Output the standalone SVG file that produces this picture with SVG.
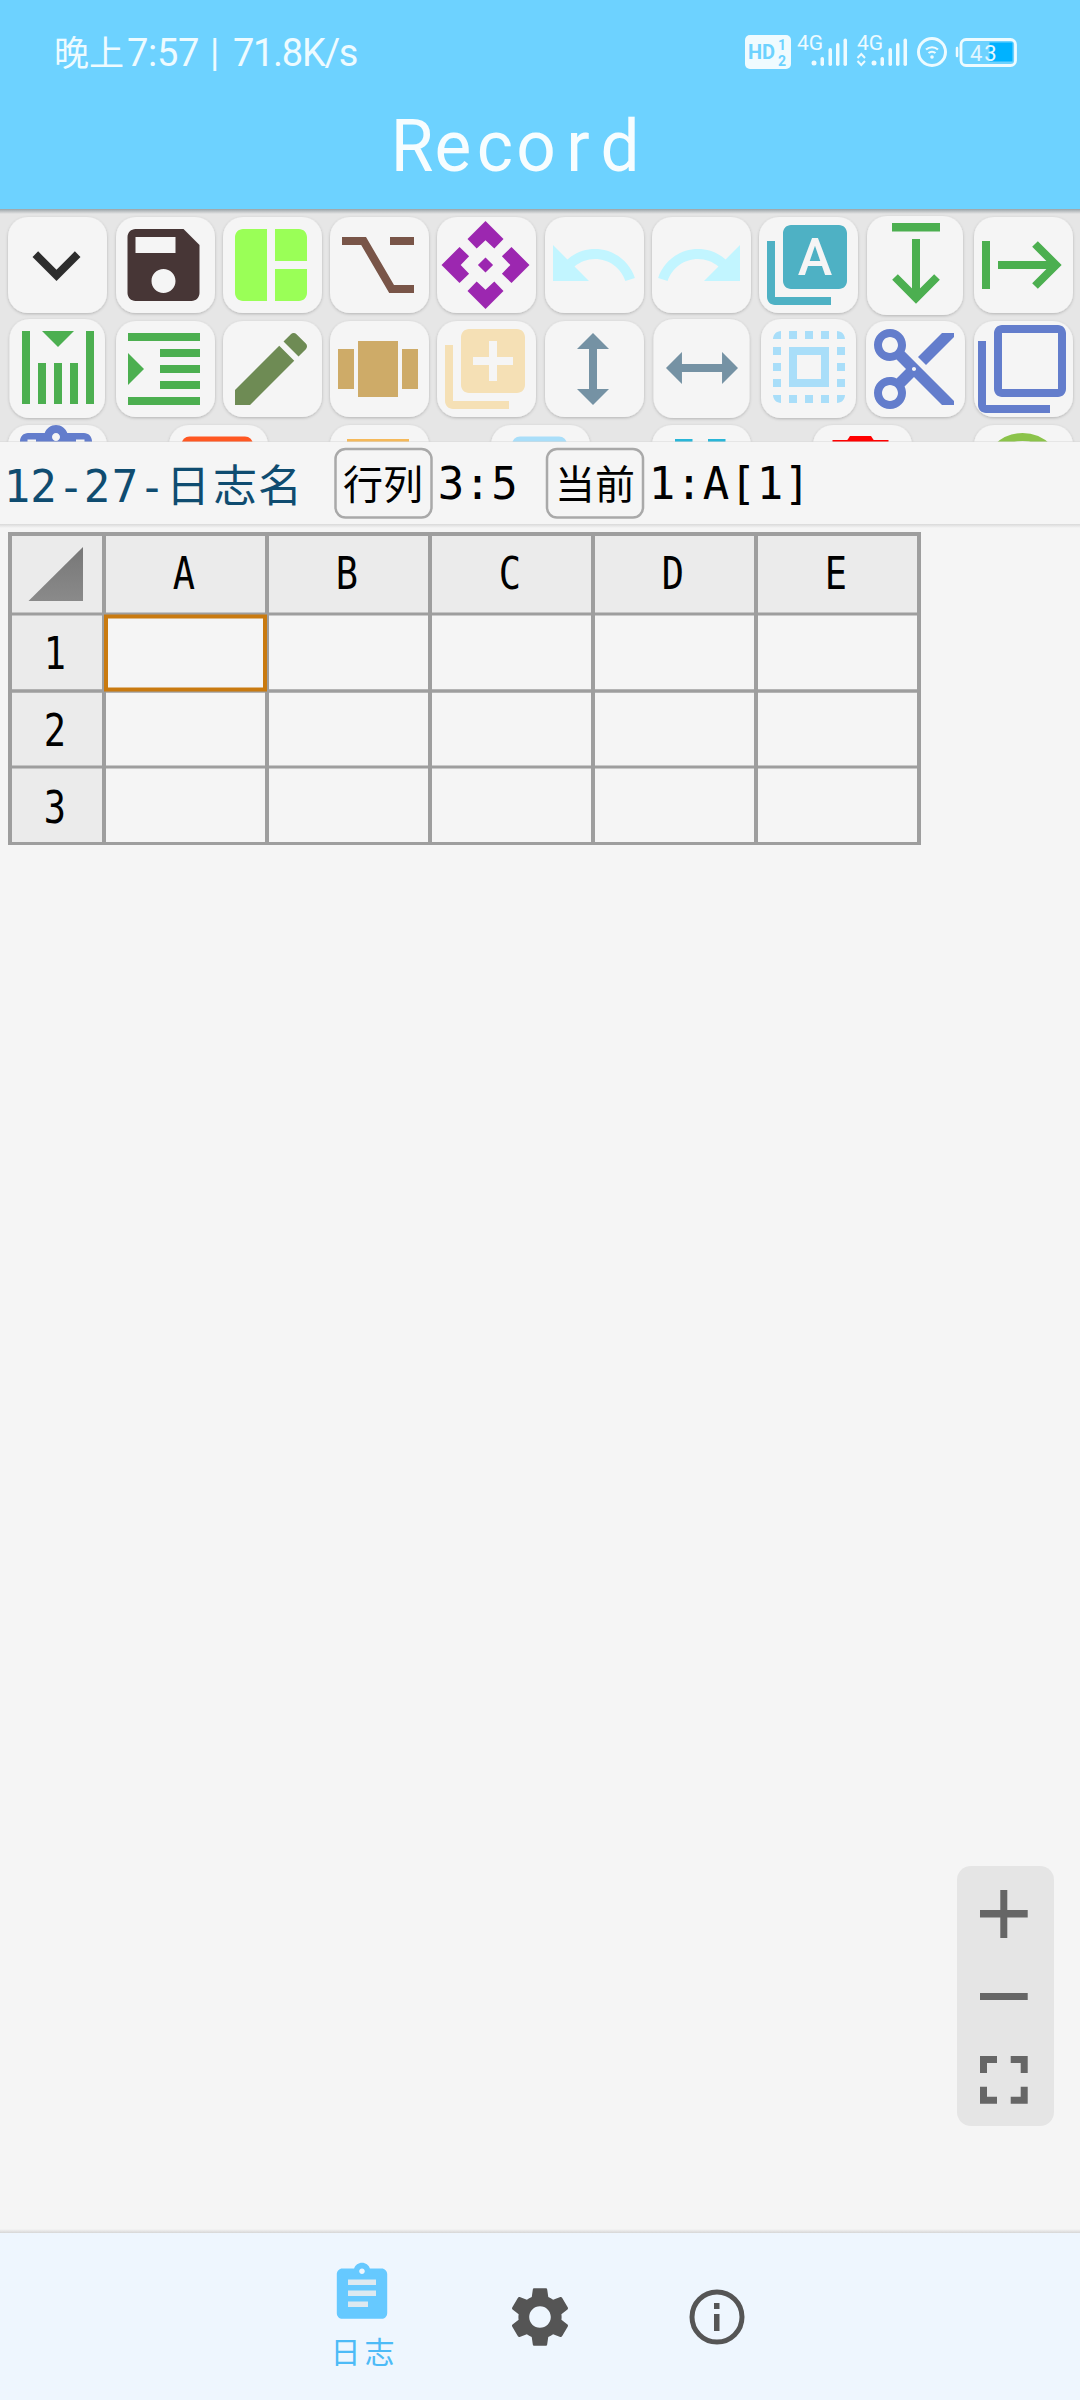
<svg xmlns="http://www.w3.org/2000/svg" width="1080" height="2400" viewBox="0 0 1080 2400">
<style>
.b{fill:#f5f5f5;filter:url(#s)}
.sans{font-family:"Roboto","Noto Sans CJK SC",sans-serif}
.cjk{font-family:"Noto Sans CJK SC","Noto Sans",sans-serif}
.mono{font-family:"DejaVu Sans Mono","Liberation Mono","Noto Sans CJK SC",monospace}
.lab{font-size:44px;text-anchor:middle;fill:#000}
.grid{stroke:#9e9e9e;fill:none}
.g{fill:#4caf50}
.st{fill:#eefbff}
.ctl{fill:#666}
</style>
<defs>
<filter id="s" x="-10%" y="-10%" width="120%" height="120%"><feDropShadow dx="0" dy="1" stdDeviation="1.6" flood-color="#000" flood-opacity="0.22"/></filter>
<linearGradient id="hs" x1="0" y1="0" x2="0" y2="1"><stop offset="0" stop-color="#9aa2a6"/><stop offset="1" stop-color="#e6e6e6"/></linearGradient>
<linearGradient id="dn" x1="0" y1="0" x2="0" y2="1"><stop offset="0" stop-color="#d9d9d9"/><stop offset="1" stop-color="#f5f5f5"/></linearGradient>
<linearGradient id="up2" x1="0" y1="0" x2="0" y2="1"><stop offset="0" stop-color="#f5f5f5"/><stop offset="1" stop-color="#d6d6d6"/></linearGradient>
<linearGradient id="tri" x1="0" y1="0" x2="0" y2="1"><stop offset="0" stop-color="#777"/><stop offset="1" stop-color="#8a8a8a"/></linearGradient>
</defs>
<rect width="1080" height="2400" fill="#f5f5f5"/>

<g id="toolbar">
<rect y="209" width="1080" height="235" fill="#e6e6e6"/>
<rect y="209" width="1080" height="5" fill="url(#hs)"/>
<g id="row1">
<rect class="b" x="8" y="217" width="99" height="96" rx="20"/>
<rect class="b" x="116" y="217" width="99" height="96" rx="20"/>
<rect class="b" x="223" y="217" width="99" height="96" rx="20"/>
<rect class="b" x="330" y="217" width="99" height="96" rx="20"/>
<rect class="b" x="437" y="217" width="99" height="96" rx="20"/>
<rect class="b" x="545" y="217" width="99" height="96" rx="20"/>
<rect class="b" x="652" y="217" width="99" height="96" rx="20"/>
<rect class="b" x="759" y="217" width="99" height="96" rx="20"/>
<rect class="b" x="867" y="216" width="96" height="99" rx="20"/>
<rect class="b" x="974" y="217" width="99" height="96" rx="20"/>
<g transform="translate(8.5 217) scale(4)"><path fill="#2d2d2d" d="M16.59 8.59L12 13.17 7.41 8.59 6 10l6 6 6-6z"/></g>
<g transform="translate(115.5 217) scale(4)"><path fill="#473636" d="M17 3H5c-1.11 0-2 .9-2 2v14c0 1.1.89 2 2 2h14c1.1 0 2-.9 2-2V7l-4-4zm-5 16c-1.66 0-3-1.34-3-3s1.34-3 3-3 3 1.34 3 3-1.34 3-3 3zm3-10H5V5h10v4z"/></g>
<g transform="translate(223 217) scale(4)"><path fill="#9aff57" d="M11 21H5c-1.1 0-2-.9-2-2V5c0-1.1.9-2 2-2h6v18zM13 11V3h6c1.1 0 2 .9 2 2v6h-8zM13 13h8v6c0 1.1-.9 2-2 2h-6v-8z"/></g>
<g transform="translate(330 217) scale(4)"><path fill="#795548" d="M3 5h6l7 12h5v2h-6.2L7.8 7H3zM15 5h6v2h-6z"/></g>
<g transform="translate(437.5 217) scale(4)"><path fill="#9c27b0" d="M12 1l4.500 4.500-2.300 2.400L12 5.800 9.800 7.900 7.500 5.500zM23 12l-4.500 4.500-2.400-2.300 2.100-2.200-2.100-2.200 2.400-2.300zM12 23l-4.500-4.500 2.300-2.400 2.200 2.100 2.200-2.100 2.300 2.400zM1 12l4.500-4.500 2.400 2.300L5.800 12l2.100 2.200-2.400 2.300zM12 10.100L13.900 12 12 13.900 10.100 12z"/></g>
<g transform="translate(545 217) scale(4)"><path fill="#c2f5ff" d="M12.5 8c-2.65 0-5.05.99-6.9 2.6L2 7v9h9l-3.62-3.62c1.39-1.16 3.16-1.88 5.12-1.88 3.54 0 6.55 2.31 7.6 5.5l2.37-.78C21.08 11.03 17.15 8 12.5 8z"/></g>
<g transform="translate(652 217) scale(4)"><path fill="#c2f5ff" d="M18.4 10.600C16.55 8.990 14.150 8 11.500 8c-4.650 0-8.580 3.030-9.960 7.220L3.900 16c1.050-3.190 4.050-5.500 7.600-5.500 1.950 0 3.730.720 5.120 1.880L13 16h9V7l-3.600 3.600z"/></g>
<g transform="translate(759 217) scale(4)"><path fill="#4eb1c4" d="M4 6H2v14c0 1.100.9 2 2 2h14v-2H4V6zm16-4H8c-1.100 0-2 .9-2 2v12c0 1.100.9 2 2 2h12c1.100 0 2-.9 2-2V4c0-1.100-.9-2-2-2z"/></g>
<text class="sans" x="815" y="275" font-size="52" font-weight="500" text-anchor="middle" fill="#f5f5f5">A</text>
<g id="align-bottom"><rect class="g" x="892" y="223" width="48" height="8.500"/><rect class="g" x="912" y="239" width="8" height="56"/><polyline points="895,277 916,298 937,277" fill="none" stroke="#4caf50" stroke-width="8"/></g>
<g id="align-right"><rect class="g" x="982" y="241" width="8" height="48"/><rect class="g" x="998" y="261" width="55" height="8"/><polyline points="1035,244 1056,265 1035,286" fill="none" stroke="#4caf50" stroke-width="8"/></g>
</g>
<g id="row2">
<rect class="b" x="9.500" y="319" width="95.500" height="99" rx="20"/>
<rect class="b" x="116" y="321" width="99" height="96" rx="20"/>
<rect class="b" x="223" y="321" width="99" height="96" rx="20"/>
<rect class="b" x="330" y="321" width="99" height="96" rx="20"/>
<rect class="b" x="437" y="321" width="99" height="96" rx="20"/>
<rect class="b" x="545" y="321" width="99" height="96" rx="20"/>
<rect class="b" x="653.500" y="319" width="96" height="99" rx="20"/>
<rect class="b" x="761" y="319" width="95" height="99" rx="20"/>
<rect class="b" x="866" y="321" width="99" height="96" rx="20"/>
<rect class="b" x="974" y="321" width="99" height="96" rx="20"/>
<g id="col-bars" class="g"><rect x="22" y="331" width="8" height="73"/><rect x="86" y="331" width="8" height="73"/><rect x="38" y="363" width="8" height="41"/><rect x="54" y="363" width="8" height="41"/><rect x="70" y="363" width="8" height="41"/><polygon points="42,331 74,331 58,347"/></g>
<g transform="translate(116 321) scale(4)"><path class="g" d="M3 21h18v-2H3v2zM3 8v8l4-4-4-4zm8 9h10v-2H11v2zM3 3v2h18V3H3zm8 6h10V7H11v2zm0 4h10v-2H11v2z"/></g>
<g transform="translate(223 321) scale(4)"><path fill="#6e8b54" d="M3 17.250V21h3.750L17.810 9.940l-3.750-3.750L3 17.250zM20.710 7.040c.39-.39.39-1.020 0-1.410l-2.340-2.340c-.39-.39-1.020-.39-1.410 0l-1.830 1.830 3.750 3.750 1.830-1.830z"/></g>
<g transform="translate(330 321) scale(4)"><path fill="#ceab68" d="M7 5h10v14H7zM2 7h4v10H2zM18 7h4v10h-4z"/></g>
<g transform="translate(437 321) scale(4)"><path fill="#f5e0b5" d="M4 6H2v14c0 1.100.9 2 2 2h14v-2H4V6zm16-4H8c-1.100 0-2 .9-2 2v12c0 1.100.9 2 2 2h12c1.100 0 2-.9 2-2V4c0-1.100-.9-2-2-2zm-1 9h-4v4h-2v-4H9V9h4V5h2v4h4v2z"/></g>
<g transform="translate(545 321) scale(4)"><path fill="#7592a4" d="M13 6.990h3L12 3 8 6.990h3v10.020H8L12 21l4-3.990h-3z"/></g>
<g transform="translate(654 320) scale(4)"><path fill="#7592a4" d="M6.990 11V8L3 12l3.990 4v-3h10.020v3L21 12l-3.990-4v3z"/></g>
<g transform="translate(761 319) scale(4)"><path fill="#a9def9" d="M3 5h2V3c-1.100 0-2 .9-2 2zm0 8h2v-2H3v2zm4 8h2v-2H7v2zM3 9h2V7H3v2zm10-6h-2v2h2V3zm6 0v2h2c0-1.100-.9-2-2-2zM5 21v-2H3c0 1.100.9 2 2 2zm-2-4h2v-2H3v2zM9 3H7v2h2V3zm2 18h2v-2h-2v2zm8-8h2v-2h-2v2zm0 8c1.100 0 2-.9 2-2h-2v2zm0-12h2V7h-2v2zm0 8h2v-2h-2v2zm-4 4h2v-2h-2v2zm0-16h2V3h-2v2zM7 17h10V7H7v10zm2-8h6v6H9V9z"/></g>
<g transform="translate(866 321) scale(4)"><path fill="#637dcc" d="M9.640 7.640c.23-.5.36-1.050.36-1.640 0-2.210-1.790-4-4-4S2 3.790 2 6s1.790 4 4 4c.59 0 1.140-.13 1.640-.36L10 12l-2.360 2.360C7.140 14.130 6.590 14 6 14c-2.210 0-4 1.790-4 4s1.790 4 4 4 4-1.790 4-4c0-.59-.13-1.140-.36-1.640L12 14l7 7h3v-1L9.640 7.640zM6 8c-1.100 0-2-.89-2-2s.9-2 2-2 2 .89 2 2-.9 2-2 2zm0 12c-1.100 0-2-.89-2-2s.9-2 2-2 2 .89 2 2-.9 2-2 2zm6-7.500c-.28 0-.5-.22-.5-.5s.22-.5.5-.5.5.22.5.5-.22.5-.5.5zM19 3l-6 6 2 2 7-7V3z"/></g>
<g transform="translate(974 321) scale(4)"><path fill="#637dcc" d="M3 5H1v16c0 1.100.9 2 2 2h16v-2H3V5zm18-4H7c-1.100 0-2 .9-2 2v14c0 1.100.9 2 2 2h14c1.100 0 2-.9 2-2V3c0-1.100-.9-2-2-2zm0 16H7V3h14v14z"/></g>
</g>
<g id="row3">
<rect class="b" x="8" y="425" width="99" height="96" rx="20"/>
<rect class="b" x="169" y="425" width="99" height="96" rx="20"/>
<rect class="b" x="330" y="425" width="99" height="96" rx="20"/>
<rect class="b" x="491" y="425" width="99" height="96" rx="20"/>
<rect class="b" x="652" y="425" width="99" height="96" rx="20"/>
<rect class="b" x="813" y="425" width="99" height="96" rx="20"/>
<rect class="b" x="974" y="425" width="99" height="96" rx="20"/>
<g transform="translate(8 421) scale(4)"><path fill="#637dcc" d="M19 3h-4.180C14.400 1.840 13.300 1 12 1c-1.300 0-2.400.84-2.820 2H5c-1.100 0-2 .9-2 2v14h18V5c0-1.100-.9-2-2-2zm-7 0c.55 0 1 .45 1 1s-.45 1-1 1-1-.45-1-1 .45-1 1-1z"/></g>
<rect x="27.500" y="439.500" width="8.500" height="4" fill="#f5f5f5"/><rect x="76" y="439.500" width="8.500" height="4" fill="#f5f5f5"/>
<rect x="181.500" y="436.500" width="71.500" height="20" rx="8" fill="#ff5722"/>
<rect x="347" y="439" width="62" height="6" fill="#f5b95a"/>
<rect x="512" y="436.500" width="55" height="20" rx="8" fill="#a9def9"/>
<rect x="675" y="439" width="17.500" height="5" fill="#29b6d8"/><rect x="708" y="439" width="17.500" height="5" fill="#29b6d8"/>
<rect x="832.500" y="440" width="56" height="5" fill="#f00"/><path d="M846 442l4-6h21l4 6z" fill="#f00"/>
<circle cx="1022.500" cy="473" r="36" fill="none" stroke="#8bc34a" stroke-width="8"/>
</g>
</g>

<g id="info-strip">
<rect y="441.500" width="1080" height="1" fill="#d8d8d8"/>
<rect y="442" width="1080" height="82" fill="#f5f5f5"/>
<rect y="524" width="1080" height="4" fill="url(#dn)"/>
<text class="mono" y="502" font-size="44" fill="#0f4c70" text-anchor="middle" x="17 43.500 71 97 125 152 188 235 280">12-27-日志名</text>
<g id="btn-rowcol"><rect x="335.500" y="449" width="96" height="68.500" rx="10" fill="none" stroke="#a9a9a9" stroke-width="2.500"/><text class="cjk" x="383" y="499" font-size="40" text-anchor="middle" fill="#000">行列</text></g>
<text class="mono lab" y="499" x="451 477.500 504.500">3:5</text>
<g id="btn-current"><rect x="547" y="449" width="96" height="68.500" rx="10" fill="none" stroke="#a9a9a9" stroke-width="2.500"/><text class="cjk" x="595" y="499" font-size="40" text-anchor="middle" fill="#000">当前</text></g>
<text class="mono lab" y="499" x="662 689 716 743 770 797">1:A[1]</text>
</g>

<g id="table">
<rect x="10" y="534" width="909" height="80" fill="#ebebeb"/>
<rect x="10" y="534" width="94" height="309" fill="#ebebeb"/>
<polygon points="28.500,601 83,601 83,547" fill="url(#tri)"/>
<g class="grid" stroke-width="4">
<path d="M10 532V845M104 532V845M267 532V845M430 532V845M593 532V845M756 532V845M919 532V845"/>
<path d="M8 534H921"/>
<path stroke-width="3" d="M8 614H921M8 767H921M8 843.500H921"/>
<path stroke-width="3.500" d="M8 691H921"/>
</g>
<rect x="106" y="616.500" width="159" height="73" fill="#f5f5f5" stroke="#c97a10" stroke-width="4"/>
<g class="mono lab">
<text transform="translate(184 589) scale(.84 1)">A</text><text transform="translate(347 589) scale(.84 1)">B</text><text transform="translate(510 589) scale(.84 1)">C</text><text transform="translate(673 589) scale(.84 1)">D</text><text transform="translate(836 589) scale(.84 1)">E</text>
<text transform="translate(55 669) scale(.84 1)">1</text><text transform="translate(55 746) scale(.84 1)">2</text><text transform="translate(55 823) scale(.84 1)">3</text>
</g>
</g>

<g id="header">
<rect width="1080" height="209" fill="#6dd2ff"/>
<text y="66" fill="#eefbff" font-family="Roboto,'Noto Sans CJK SC',sans-serif" font-size="38"><tspan class="cjk" x="54" font-size="35">晚上</tspan><tspan x="127" letter-spacing="-0.300">7:57</tspan><tspan x="210">|</tspan><tspan x="233" letter-spacing="-1.300">71.8K/s</tspan></text>
<text class="sans" transform="scale(.95 1)" y="171" font-size="73" fill="#f7fdff" text-anchor="middle" x="433.700 476.800 521 564.200 608.400 652.600">Record</text>
<g id="hd"><rect x="745" y="35" width="46" height="34" rx="5" fill="#f0fbff"/><text class="sans" x="748" y="59" font-size="20" font-weight="700" fill="#6dd2ff">HD</text><text class="sans" x="782" y="50" font-size="14" font-weight="700" text-anchor="middle" fill="#6dd2ff">1</text><text class="sans" x="782" y="66" font-size="14" font-weight="700" text-anchor="middle" fill="#6dd2ff">2</text></g>
<g id="sim1"><text class="sans" x="797" y="49.500" font-size="21" fill="#eefbff">4G</text><circle class="st" cx="814" cy="63" r="2.500"/><rect class="st" x="820.500" y="57" width="3.500" height="9" rx="1.700"/><rect class="st" x="828.500" y="48" width="3.500" height="18" rx="1.700"/><rect class="st" x="836" y="43" width="3.500" height="23" rx="1.700"/><rect class="st" x="843.500" y="38.500" width="3.500" height="27.500" rx="1.700"/></g>
<g id="sim2"><text class="sans" x="857" y="49.500" font-size="21" fill="#eefbff">4G</text><polyline points="857.500,58 861.300,54 865,58" fill="none" stroke="#eefbff" stroke-width="2"/><polyline points="857.500,61 861.300,65 865,61" fill="none" stroke="#eefbff" stroke-width="2"/><circle class="st" cx="874" cy="63" r="2.500"/><rect class="st" x="880.500" y="57" width="3.500" height="9" rx="1.700"/><rect class="st" x="888.500" y="48" width="3.500" height="18" rx="1.700"/><rect class="st" x="896" y="43" width="3.500" height="23" rx="1.700"/><rect class="st" x="903.500" y="38.500" width="3.500" height="27.500" rx="1.700"/></g>
<g id="wifi" fill="none" stroke="#eefbff"><circle cx="932" cy="52" r="13.500" stroke-width="3"/><path stroke-width="2.200" d="M926 49.500c3.500-3 8.500-3 12 0M928.500 53c2-1.700 5-1.700 7 0"/><circle cx="932" cy="57" r="1.800" fill="#eefbff" stroke="none"/></g>
<g id="battery"><rect x="989.500" y="42.500" width="23" height="19" fill="#00b2ff"/><rect x="961" y="39.500" width="54.500" height="26" rx="5" fill="none" stroke="#eefbff" stroke-width="2.800"/><path d="M957 48v8" stroke="#eefbff" stroke-width="2.500" stroke-linecap="round"/><text class="sans" x="970" y="61" font-size="22" letter-spacing="2" fill="#e2f6ff">43</text></g>
</g>

<g id="zoom-control">
<rect x="957" y="1866" width="97" height="260" rx="14" fill="#e5e5e5"/>
<path class="ctl" d="M980 1910h20.300v-20h7v20h20.400v7.500h-20.400v20.500h-7v-20.500h-20.300z"/>
<rect class="ctl" x="980" y="1993" width="47.700" height="7"/>
<path class="ctl" d="M980 2056h17v7h-10v10h-7zM1027.700 2056h-17v7h10v10h7zM980 2103.700h17v-7h-10v-10h-7zM1027.700 2103.700h-17v-7h10v-10h7z"/>
</g>

<g id="bottom-nav">
<rect y="2229" width="1080" height="4" fill="url(#up2)"/>
<rect y="2233" width="1080" height="167" fill="#eef6fe"/>
<g id="nav-log">
<g transform="translate(328.400 2260) scale(2.800)"><path fill="#66c9ff" d="M19 3h-4.180C14.400 1.840 13.300 1 12 1c-1.300 0-2.400.84-2.820 2H5c-1.100 0-2 .9-2 2v14c0 1.100.9 2 2 2h14c1.100 0 2-.9 2-2V5c0-1.100-.9-2-2-2zm-7 0c.55 0 1 .45 1 1s-.45 1-1 1-1-.45-1-1 .45-1 1-1z"/></g>
<g fill="#dde9f0"><rect x="348" y="2279.500" width="28" height="5.500"/><rect x="348" y="2290.500" width="28" height="5.500"/><rect x="348" y="2301.500" width="20" height="5.500"/></g>
<text class="cjk" x="364.500" y="2363" font-size="30" letter-spacing="4" text-anchor="middle" fill="#4dbbf7">日志</text>
</g>
<g id="nav-settings" transform="translate(504 2281) scale(3)"><path fill="#555" d="M19.140 12.940c.04-.3.06-.61.06-.94 0-.32-.02-.64-.07-.94l2.030-1.580c.18-.14.23-.41.12-.61l-1.920-3.320c-.12-.22-.37-.29-.59-.22l-2.390.96c-.5-.38-1.030-.7-1.620-.94l-.36-2.540c-.04-.24-.24-.41-.48-.41h-3.840c-.24 0-.43.17-.47.41l-.36 2.540c-.59.24-1.130.57-1.620.94l-2.390-.96c-.22-.08-.47 0-.59.22L2.740 8.870c-.12.21-.08.47.12.61l2.030 1.580c-.05.3-.09.63-.09.94s.02.64.07.94l-2.030 1.580c-.18.14-.23.41-.12.61l1.920 3.320c.12.22.37.29.59.22l2.390-.96c.5.38 1.030.7 1.620.94l.36 2.540c.05.24.24.41.48.41h3.840c.24 0 .44-.17.47-.41l.36-2.540c.59-.24 1.130-.56 1.620-.94l2.390.96c.22.08.47 0 .59-.22l1.920-3.320c.12-.22.07-.47-.12-.61l-2.010-1.580zM12 15.600c-1.980 0-3.600-1.620-3.600-3.600s1.620-3.600 3.600-3.600 3.600 1.620 3.600 3.600-1.620 3.600-3.600 3.600z"/></g>
<g id="nav-info"><circle cx="717" cy="2317" r="25" fill="none" stroke="#555" stroke-width="5"/><rect x="714" y="2303" width="5.500" height="6" fill="#555"/><rect x="714" y="2314" width="5.500" height="17" fill="#555"/></g>
</g>
</svg>
